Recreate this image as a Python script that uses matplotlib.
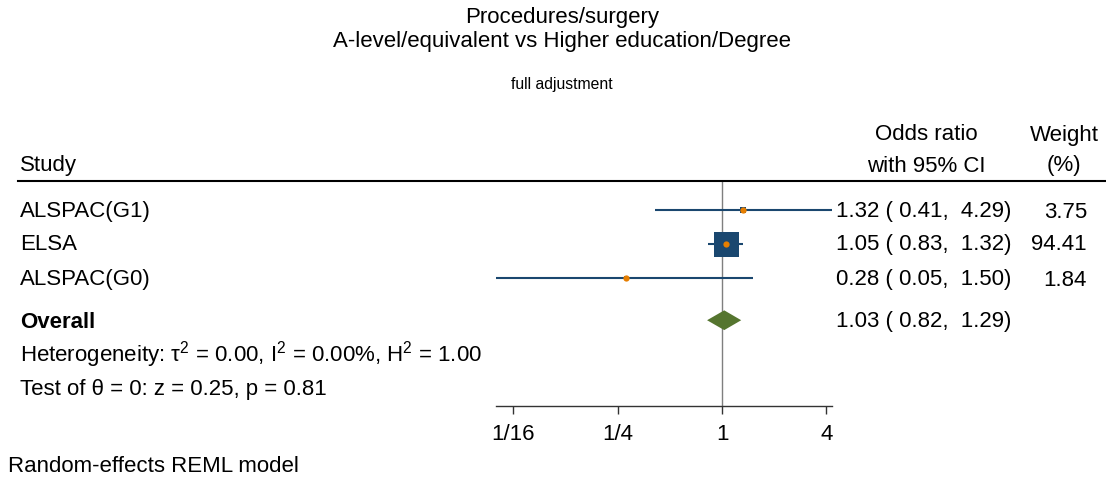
import matplotlib
matplotlib.use("Agg")
import matplotlib.pyplot as plt
import numpy as np
from matplotlib.lines import Line2D

plt.rcParams['font.family'] = ['Liberation Sans', 'DejaVu Sans']
plt.rcParams['mathtext.fontset'] = 'custom'
plt.rcParams['mathtext.rm'] = 'Liberation Sans'
plt.rcParams['mathtext.default'] = 'regular'

# data
studies = ["ALSPAC(G1)", "ELSA", "ALSPAC(G0)"]
odds = [1.32, 1.05, 0.28]
ci_low = [0.41, 0.83, 0.05]
ci_high = [4.29, 1.32, 1.50]
weights = [3.75, 94.41, 1.84]
overall = [1.03, 0.82, 1.29]
het_text = "Heterogeneity: τ$^2$ = 0.00, I$^2$ = 0.00%, H$^2$ = 1.00"
test_text = "Test of θ = 0: z = 0.25, p = 0.81"
tick_vals = [1/16, 1/4, 1, 4]
tick_labels = ["1/16", "1/4", "1", "4"]

W, H = 1106, 481
fig = plt.figure(figsize=(W / 100, H / 100), dpi=100)

def fx(px):
    return px / W

def fy(py):
    return 1 - py / H

navy = "#1a476f"
orange = "#e67e00"
green = "#55752f"
fs = 16

# plot area
ax = fig.add_axes([fx(496.4), fy(407), fx(831.7) - fx(496.4), fy(182) - fy(407)])
ax.set_xscale("log", base=2)
ax.set_xlim(min(ci_low), max(ci_high))
ax.set_ylim(6.76, 0.15)

rows = np.arange(1, len(studies) + 1)
for r, o, lo, hi, w in zip(rows, odds, ci_low, ci_high, weights):
    ax.plot([lo, hi], [r, r], color=navy, lw=1.5, solid_capstyle="butt", zorder=2)
    ax.plot(o, r, marker="s", color=navy, markersize=17 * np.sqrt(w / max(weights)) + 1,
            markeredgewidth=0, zorder=3)
    ax.plot(o, r, marker="o", color=orange, markersize=4.5, markeredgewidth=0, zorder=4)

ov_row = 4.24
ax.fill([overall[1], overall[0], overall[2], overall[0]],
        [ov_row, ov_row - 0.29, ov_row, ov_row + 0.29], color=green, lw=0, zorder=3)

ax.axvline(1, color="#7f7f7f", lw=1, zorder=1)

for s in ["top", "right", "left"]:
    ax.spines[s].set_visible(False)
ax.spines["bottom"].set_color("#333333")
ax.spines["bottom"].set_linewidth(1)
ax.set_yticks([])
ax.set_xticks(tick_vals)
ax.set_xticklabels(tick_labels, fontsize=fs)
ax.xaxis.set_minor_locator(matplotlib.ticker.NullLocator())
ax.tick_params(axis="x", length=6, width=1, color="#333333", pad=6)

# header line
fig.add_artist(Line2D([fx(18), fx(1106)], [fy(182), fy(182)], color="black", lw=1.5))

# titles
fig.text(fx(562), fy(18), "Procedures/surgery", ha="center", va="center", fontsize=fs)
fig.text(fx(562), fy(42), "A-level/equivalent vs Higher education/Degree", ha="center", va="center", fontsize=fs)
fig.text(fx(562), fy(85), "full adjustment", ha="center", va="center", fontsize=11.3)

# column headers
fig.text(fx(20), fy(166), "Study", ha="left", va="center", fontsize=fs)
fig.text(fx(926), fy(135), "Odds ratio", ha="center", va="center", fontsize=fs)
fig.text(fx(926), fy(166), "with 95% CI", ha="center", va="center", fontsize=fs)
fig.text(fx(1064), fy(135), "Weight", ha="center", va="center", fontsize=fs)
fig.text(fx(1064), fy(166), "(%)", ha="center", va="center", fontsize=fs)

row_py = [212, 245, 280]
for py, s, o, lo, hi, w in zip(row_py, studies, odds, ci_low, ci_high, weights):
    fig.text(fx(20), fy(py), s, ha="left", va="center", fontsize=fs)
    fig.text(fx(1011), fy(py), f"{o:.2f} ( {lo:.2f},  {hi:.2f})", ha="right", va="center", fontsize=fs)
    fig.text(fx(1087), fy(py), f"{w:.2f}", ha="right", va="center", fontsize=fs)

fig.text(fx(20), fy(322), "Overall", ha="left", va="center", fontsize=fs, fontweight="bold")
fig.text(fx(1011), fy(322), f"{overall[0]:.2f} ( {overall[1]:.2f},  {overall[2]:.2f})",
         ha="right", va="center", fontsize=fs)
fig.text(fx(20), fy(355), het_text, ha="left", va="center", fontsize=fs)
fig.text(fx(20), fy(390), test_text, ha="left", va="center", fontsize=fs)

fig.text(fx(8), fy(467), "Random-effects REML model", ha="left", va="center", fontsize=fs)

fig.savefig("out.png", dpi=100, facecolor="white")
